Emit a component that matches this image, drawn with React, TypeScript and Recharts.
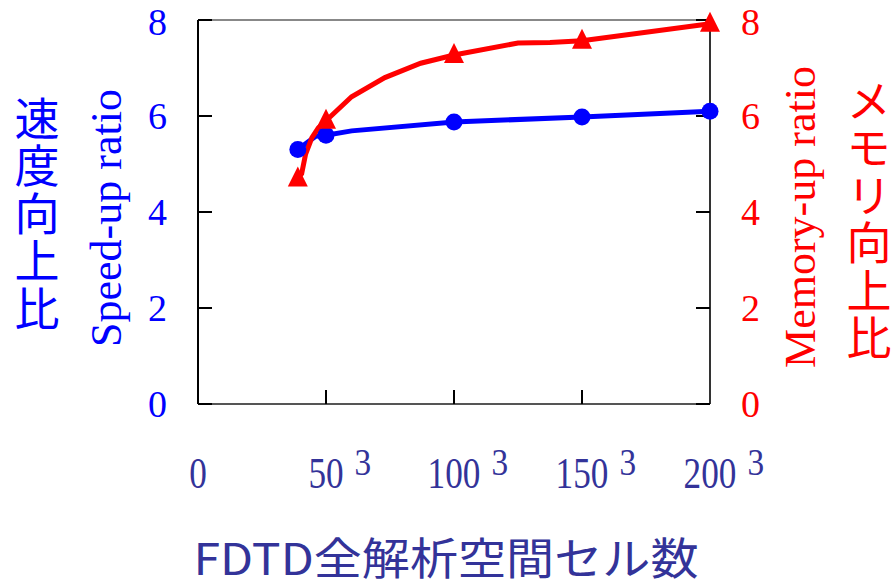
import * as React from "react";
import { ComposedChart, Line, XAxis, YAxis, ReferenceLine } from "recharts";

// cells per side (label shows N^3)
const speedX = [39, 46, 50, 60, 100, 150, 200];
const speedY = [5.3, 5.58, 5.6, 5.69, 5.875, 5.98, 6.1];
const speedMarks = [39, 50, 100, 150, 200];

const memX = [39, 40.5, 42, 44.5, 47, 50, 60, 73, 87, 100, 125, 137.5, 150, 200];
const memY = [4.7, 4.8, 5.2, 5.55, 5.75, 5.9, 6.4, 6.8, 7.1, 7.27, 7.52, 7.53, 7.57, 7.92];
const memMarks = [39, 50, 100, 150, 200];

const xTicks = [0, 50, 100, 150, 200];
const yTicks = [0, 2, 4, 6, 8];

const speedTitle = "Speed-up ratio";
const speedTitleJa = "速度向上比";
const memTitle = "Memory-up ratio";
const memTitleJa = "メモリ向上比";
const xTitle = "FDTD全解析空間セル数";

const BLUE = "#0000ff";
const RED = "#ff0000";
const NAVY = "#333399";
const SERIF = "'Liberation Serif', 'Times New Roman', serif";
const CJK = "'Noto Sans CJK JP', 'Noto Sans', sans-serif";

const speedData = speedX.map((x, i) => ({ x, v: speedY[i], mark: speedMarks.includes(x) }));
const memData = memX.map((x, i) => ({ x, v: memY[i], mark: memMarks.includes(x) }));

const CircleDot = (props: any) => {
  const { cx, cy, payload, index } = props;
  if (!payload.mark) return <g key={`c-${index}`} />;
  return <circle key={`c-${index}`} cx={cx} cy={cy} r={8.5} fill={BLUE} />;
};

const TriDot = (props: any) => {
  const { cx, cy, payload, index } = props;
  if (!payload.mark) return <g key={`t-${index}`} />;
  return (
    <polygon
      key={`t-${index}`}
      points={`${cx},${cy - 12} ${cx - 10},${cy + 8} ${cx + 10},${cy + 8}`}
      fill={RED}
    />
  );
};

// labels in the original are a narrow serif, so squeeze them a bit
const XTick = (props: any) => {
  const { x, y, payload } = props;
  const label = String(payload.value);
  const fs = 44;
  const sx = 0.8;
  const half = label.length * fs * 0.25 * sx;
  return (
    <g>
      <text
        transform={`translate(${x},${y + 26}) scale(${sx},1)`}
        textAnchor="middle"
        fill={NAVY}
        fontSize={fs}
        fontFamily={SERIF}
      >
        {label}
      </text>
      {payload.value > 0 && (
        <text
          transform={`translate(${x + half + 11},${y + 13}) scale(0.9,1)`}
          textAnchor="start"
          fill={NAVY}
          fontSize={37}
          fontFamily={SERIF}
        >
          3
        </text>
      )}
    </g>
  );
};

const VerticalChars = ({ text, x, y, color }: { text: string; x: number; y: number; color: string }) => (
  <text
    x={x}
    y={y}
    style={{ writingMode: "vertical-rl" }}
    fill={color}
    fontSize={45}
    letterSpacing={2.5}
    fontFamily={CJK}
  >
    {text}
  </text>
);

export default function App() {
  return (
    <div style={{ position: "absolute", left: 0, top: 0, width: 895, height: 582, background: "#fff" }}>
      <ComposedChart width={895} height={582} margin={{ top: 20, right: 0, bottom: 0, left: 0 }}>
        <XAxis
          dataKey="x"
          type="number"
          domain={[0, 200]}
          ticks={xTicks}
          height={178}
          tickSize={-14}
          tickMargin={72}
          tickLine={{ stroke: "#000", strokeWidth: 2 }}
          axisLine={{ stroke: "#555", strokeWidth: 2 }}
          tick={<XTick />}
          allowDuplicatedCategory={false}
        />
        <YAxis
          yAxisId="left"
          domain={[0, 8]}
          ticks={yTicks}
          width={198}
          tickSize={-14}
          tickMargin={45}
          tickLine={{ stroke: "#000", strokeWidth: 2 }}
          axisLine={{ stroke: "#000", strokeWidth: 2 }}
          tick={{ fill: BLUE, fontSize: 38, fontFamily: SERIF }}
        />
        <YAxis
          yAxisId="right"
          orientation="right"
          domain={[0, 8]}
          ticks={yTicks}
          width={185}
          tickSize={-14}
          tickMargin={45}
          tickLine={{ stroke: "#000", strokeWidth: 2 }}
          axisLine={{ stroke: "#333", strokeWidth: 2 }}
          tick={{ fill: RED, fontSize: 38, fontFamily: SERIF }}
        />
        <ReferenceLine yAxisId="left" y={8} stroke="#888" strokeWidth={2} />
        <Line
          yAxisId="left"
          data={speedData}
          dataKey="v"
          type="linear"
          stroke={BLUE}
          strokeWidth={5}
          dot={<CircleDot />}
          activeDot={false}
          isAnimationActive={false}
        />
        <Line
          yAxisId="right"
          data={memData}
          dataKey="v"
          type="linear"
          stroke={RED}
          strokeWidth={5}
          dot={<TriDot />}
          activeDot={false}
          isAnimationActive={false}
        />
      </ComposedChart>
      <svg width={895} height={582} style={{ position: "absolute", left: 0, top: 0, pointerEvents: "none" }}>
        <VerticalChars text={speedTitleJa} x={37} y={96} color={BLUE} />
        <text
          x={106}
          y={218}
          transform="rotate(-90 106 218)"
          textAnchor="middle"
          dominantBaseline="central"
          fill={BLUE}
          fontSize={44}
          fontFamily={SERIF}
        >
          {speedTitle}
        </text>
        <text
          x={800}
          y={217}
          transform="rotate(-90 800 217)"
          textAnchor="middle"
          dominantBaseline="central"
          fill={RED}
          fontSize={44}
          fontFamily={SERIF}
        >
          {memTitle}
        </text>
        <VerticalChars text={memTitleJa} x={869} y={78} color={RED} />
        <text
          x={446}
          y={575}
          textAnchor="middle"
          textLength={505}
          lengthAdjust="spacingAndGlyphs"
          fill={NAVY}
          fontSize={44}
          fontFamily={CJK}
        >
          {xTitle}
        </text>
      </svg>
    </div>
  );
}
